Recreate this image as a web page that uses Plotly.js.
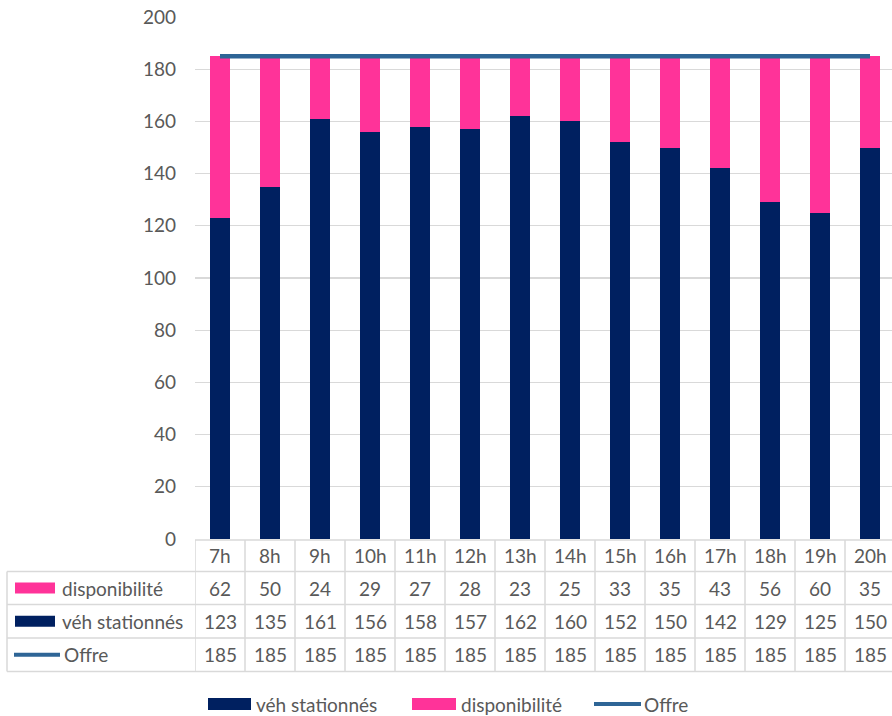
<!DOCTYPE html>
<html><head><meta charset="utf-8">
<script src="https://cdn.plot.ly/plotly-3.0.1.min.js"></script>
<style>html,body{margin:0;padding:0;overflow:hidden;background:#fff}</style>
</head><body>
<div id="chart" style="width:892px;height:716px"></div>
<script>
const categories = ['7h','8h','9h','10h','11h','12h','13h','14h','15h','16h','17h','18h','19h','20h'];
const vehStationnes = [123,135,161,156,158,157,162,160,152,150,142,129,125,150];
const disponibilite = [62,50,24,29,27,28,23,25,33,35,43,56,60,35];
const offre = [185,185,185,185,185,185,185,185,185,185,185,185,185,185];
const seriesNames = ['disponibilité','véh stationnés','Offre'];

const NAVY = '#002060', PINK = '#FF3399', BLUE = '#2E6596';
const TXT = '#595959', GRID = '#D9D9D9';
const FONT = 'Lato, "Open Sans", sans-serif';
const FS = 19;

// pixel helpers for layout placement (plot area 195..892 x 17..539)
const PX0 = 195, PW = 697, PY1 = 539, PH = 522;
const px = x => (x - PX0) / PW;
const py = y => (PY1 - y) / PH;

const traces = [
  {type:'bar', x:categories, y:vehStationnes, name:seriesNames[1], marker:{color:NAVY}, width:0.4, showlegend:false, hoverinfo:'y'},
  {type:'bar', x:categories, y:disponibilite, name:seriesNames[0], marker:{color:PINK}, width:0.4, showlegend:false, hoverinfo:'y'},
  {type:'scatter', mode:'lines', x:categories, y:offre, name:seriesNames[2], line:{color:BLUE, width:4.5}, showlegend:false, hoverinfo:'y'}
];

const shapes = [];
const annotations = [];
const line = (x0,y0,x1,y1,xref) => shapes.push({type:'line', xref:xref||'paper', yref:'paper', x0, y0, x1, y1, line:{color:GRID, width:1.5}, layer:'above'});

// table rows (pixel y)
const rowTop = [540, 571.5, 604.5, 638, 671.5];
line(px(PX0), py(rowTop[0]), 1.01, py(rowTop[0]));
for (let r = 1; r < rowTop.length; r++) line(px(7), py(rowTop[r]), 1.01, py(rowTop[r]));
line(px(7), py(rowTop[1]), px(7), py(rowTop[4]));
for (let i = 0; i <= categories.length; i++) {
  shapes.push({type:'line', xref:'x', yref:'paper', x0:i-0.5, x1:i-0.5, y0:py(rowTop[0]), y1:py(rowTop[4]), line:{color:GRID, width:1.5}});
}
const rowMid = r => py((rowTop[r] + rowTop[r+1]) / 2);
const rows = [disponibilite, vehStationnes, offre];
categories.forEach((c, i) => {
  annotations.push({xref:'x', yref:'paper', x:i, y:rowMid(0), text:c, showarrow:false, xanchor:'center', yanchor:'middle', font:{family:FONT, size:FS, color:TXT}});
  rows.forEach((arr, r) => {
    annotations.push({xref:'x', yref:'paper', x:i, y:rowMid(r+1), text:String(arr[i]), showarrow:false, xanchor:'center', yanchor:'middle', font:{family:FONT, size:FS, color:TXT}});
  });
});
// row labels with keys
const keyColors = [PINK, NAVY];
seriesNames.forEach((n, r) => {
  const yc = (rowTop[r+1] + rowTop[r+2]) / 2;
  if (r < 2) {
    shapes.push({type:'rect', xref:'paper', yref:'paper', x0:px(15), x1:px(55), y0:py(yc+5.5), y1:py(yc-5.5), fillcolor:keyColors[r], line:{width:0}});
  } else {
    shapes.push({type:'line', xref:'paper', yref:'paper', x0:px(14), x1:px(60), y0:py(yc), y1:py(yc), line:{color:BLUE, width:4}});
  }
  annotations.push({xref:'paper', yref:'paper', x:px(r<2?60:62), y:py(yc), text:n, showarrow:false, xanchor:'left', yanchor:'middle', font:{family:FONT, size:FS, color:TXT}});
});
// bottom legend
const LY = 704;
shapes.push({type:'rect', xref:'paper', yref:'paper', x0:px(208), x1:px(251), y0:py(LY+6), y1:py(LY-6), fillcolor:NAVY, line:{width:0}});
annotations.push({xref:'paper', yref:'paper', x:px(254), y:py(LY), text:seriesNames[1], showarrow:false, xanchor:'left', yanchor:'middle', font:{family:FONT, size:FS, color:TXT}});
shapes.push({type:'rect', xref:'paper', yref:'paper', x0:px(412), x1:px(456), y0:py(LY+6), y1:py(LY-6), fillcolor:PINK, line:{width:0}});
annotations.push({xref:'paper', yref:'paper', x:px(459), y:py(LY), text:seriesNames[0], showarrow:false, xanchor:'left', yanchor:'middle', font:{family:FONT, size:FS, color:TXT}});
shapes.push({type:'line', xref:'paper', yref:'paper', x0:px(594), x1:px(641), y0:py(LY), y1:py(LY), line:{color:BLUE, width:4}});
annotations.push({xref:'paper', yref:'paper', x:px(642), y:py(LY), text:seriesNames[2], showarrow:false, xanchor:'left', yanchor:'middle', font:{family:FONT, size:FS, color:TXT}});

const layout = {
  width:892, height:716,
  margin:{l:195, r:0, t:17, b:177, pad:0},
  paper_bgcolor:'#fff', plot_bgcolor:'#fff',
  barmode:'stack', bargap:0.6,
  showlegend:false,
  font:{family:FONT, size:FS, color:TXT},
  xaxis:{type:'category', range:[-0.5, 13.44], showticklabels:false, showgrid:false, zeroline:false, showline:false, ticks:'', fixedrange:true},
  yaxis:{range:[0,200], dtick:20, showgrid:true, gridcolor:GRID, gridwidth:1.3, zeroline:false, showline:false, ticks:'', ticklabelstandoff:18, tickfont:{family:FONT, size:FS, color:TXT}, fixedrange:true},
  shapes, annotations
};
Plotly.newPlot('chart', traces, layout, {displayModeBar:false, staticPlot:true});
</script>
</body></html>
